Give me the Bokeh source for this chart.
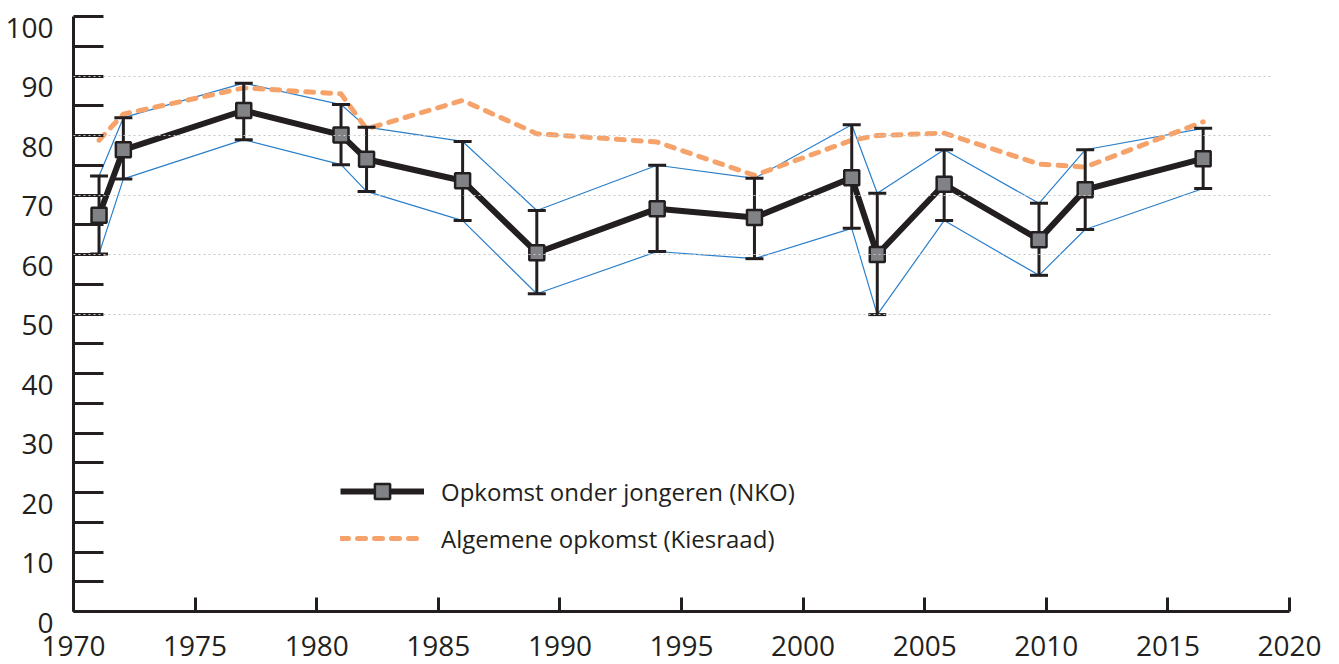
from bokeh.plotting import figure
from bokeh.models import (ColumnDataSource, FixedTicker, Range1d, Legend,
                          LegendItem, LinearAxis)
from bokeh.embed import file_html
from bokeh.resources import INLINE

# ---- data ----
years = [1971.05, 1972.05, 1977.0, 1981.0, 1982.05, 1986.0, 1989.05, 1994.0,
         1998.0, 2002.0, 2003.05, 2005.8, 2009.7, 2011.6, 2016.45]
nko = [66.6, 77.6, 84.2, 80.1, 76.0, 72.4, 60.3, 67.7, 66.2, 72.9, 60.0,
       71.8, 62.5, 70.9, 76.1]
nko_upper = [73.2, 83.0, 88.8, 85.2, 81.4, 79.0, 67.4, 75.0, 72.8, 81.8,
             70.3, 77.6, 68.6, 77.6, 81.2]
nko_lower = [60.1, 72.7, 79.3, 75.1, 70.6, 65.7, 53.4, 60.5, 59.3, 64.4,
             49.9, 65.7, 56.5, 64.2, 71.1]
kiesraad = [79.2, 83.6, 88.0, 87.0, 81.1, 85.9, 80.3, 78.9, 73.3, 79.2,
            80.0, 80.4, 75.2, 74.7, 82.3]

y_tick_values = [0, 10, 20, 30, 40, 50, 60, 70, 80, 90, 100]
y_tick_labels = ["0", "10", "20", "30", "40", "50", "60", "70", "80", "90", "100"]
x_tick_values = [1970, 1975, 1980, 1985, 1990, 1995, 2000, 2005, 2010, 2015, 2020]
x_tick_labels = ["1970", "1975", "1980", "1985", "1990", "1995", "2000",
                 "2005", "2010", "2015", "2020"]
grid_values = [50, 60, 70, 80, 90]
label_nko = "Opkomst onder jongeren (NKO)"
label_kies = "Algemene opkomst (Kiesraad)"

# ---- style / layout ----
TEXT = "#231f20"
FONT = "Open Sans"
BLUE = "#2a7fcb"
ORANGE = "#f6a36b"
W, H = 1339, 664
PAD_L, PAD_R, PAD_T, PAD_B = 73, 50, 16, 53
X0, X1, Y0, Y1 = 1970, 2020, 0, 100
px_x = (W - PAD_L - PAD_R) / (X1 - X0)
px_y = (H - PAD_T - PAD_B) / (Y1 - Y0)
LABEL_DROP = 11  # y tick labels sit this many px below their tick

src = ColumnDataSource(dict(x=years, y=nko, up=nko_upper, lo=nko_lower, k=kiesraad))

ys, ye = Y0 - PAD_B / px_y, Y1 + PAD_T / px_y
p = figure(width=W, height=H, min_border=0,
           x_range=Range1d(X0 - PAD_L / px_x, X1 + PAD_R / px_x),
           y_range=Range1d(ys, ye),
           output_backend="svg", toolbar_location=None)
p.extra_y_ranges = {"ylab": Range1d(ys + LABEL_DROP / px_y, ye + LABEL_DROP / px_y)}
p.outline_line_color = None
p.background_fill_color = "white"
p.border_fill_color = "white"

# x axis: line, inward ticks, labels
xa = p.xaxis[0]
xa.ticker = FixedTicker(ticks=x_tick_values)
xa.major_label_overrides = dict(zip(x_tick_values, x_tick_labels))
xa.fixed_location = Y0
xa.bounds = (X0, X1)
xa.major_tick_in = 14
xa.major_tick_out = 0
xa.minor_tick_in = 0
xa.minor_tick_out = 0
xa.axis_line_width = 3
xa.axis_line_color = TEXT
xa.major_tick_line_width = 3
xa.major_tick_line_color = TEXT
xa.major_label_standoff = 24
xa.major_label_text_font = FONT
xa.major_label_text_font_size = "28px"
xa.major_label_text_color = TEXT

# y axis: line and inward ticks every 5
ya = p.yaxis[0]
ya.ticker = FixedTicker(ticks=list(range(0, 101, 5)))
ya.fixed_location = X0
ya.bounds = (Y0, Y1)
ya.major_tick_in = 30
ya.major_tick_out = 0
ya.minor_tick_in = 0
ya.minor_tick_out = 0
ya.axis_line_width = 3
ya.axis_line_color = TEXT
ya.major_tick_line_width = 3
ya.major_tick_line_color = TEXT
ya.major_label_text_color = None

# y labels: separate axis, dropped slightly below the ticks
yl = LinearAxis(y_range_name="ylab", fixed_location=X0,
                ticker=FixedTicker(ticks=y_tick_values),
                major_label_overrides=dict(zip(y_tick_values, y_tick_labels)),
                bounds=(Y0, Y1), axis_line_color=None,
                major_tick_line_color=None, minor_tick_line_color=None,
                major_tick_in=0, major_tick_out=0,
                major_label_standoff=20, major_label_text_font=FONT,
                major_label_text_font_size="28px", major_label_text_color=TEXT)
p.add_layout(yl, "left")

p.xgrid.visible = False
p.ygrid.ticker = FixedTicker(ticks=grid_values)
p.ygrid.cross_bounds = (X0, X1 - 0.7)
p.ygrid.grid_line_color = "#c4c6c8"
p.ygrid.grid_line_dash = "2 3"
p.ygrid.grid_line_width = 1.2
p.ygrid.level = "overlay"

# confidence band lines
p.line("x", "up", source=src, line_color=BLUE, line_width=1.2)
p.line("x", "lo", source=src, line_color=BLUE, line_width=1.2)

# general turnout
kr = p.line("x", "k", source=src, line_color=ORANGE, line_width=5,
            line_dash="8 9", line_cap="round", line_join="round")

# error bars
p.segment(x0="x", y0="lo", x1="x", y1="up", source=src, line_color=TEXT, line_width=3)
p.scatter("x", "up", source=src, marker="dash", size=18, line_color=TEXT, line_width=3)
p.scatter("x", "lo", source=src, marker="dash", size=18, line_color=TEXT, line_width=3)

# youth turnout
nl = p.line("x", "y", source=src, line_color=TEXT, line_width=6, line_join="round")
nm = p.scatter("x", "y", source=src, marker="square", size=15,
               fill_color="#808285", line_color=TEXT, line_width=2.5)

legend = Legend(items=[LegendItem(label=label_nko, renderers=[nl, nm]),
                       LegendItem(label=label_kies, renderers=[kr])],
                location=(340, 107), orientation="vertical",
                border_line_color=None, background_fill_alpha=0,
                padding=0, margin=0, glyph_width=84, glyph_height=38,
                label_height=38, spacing=9, label_standoff=17,
                label_text_font=FONT, label_text_font_size="24px",
                label_text_color=TEXT)
p.add_layout(legend)

open("out.html", "w").write(file_html(p, INLINE))
